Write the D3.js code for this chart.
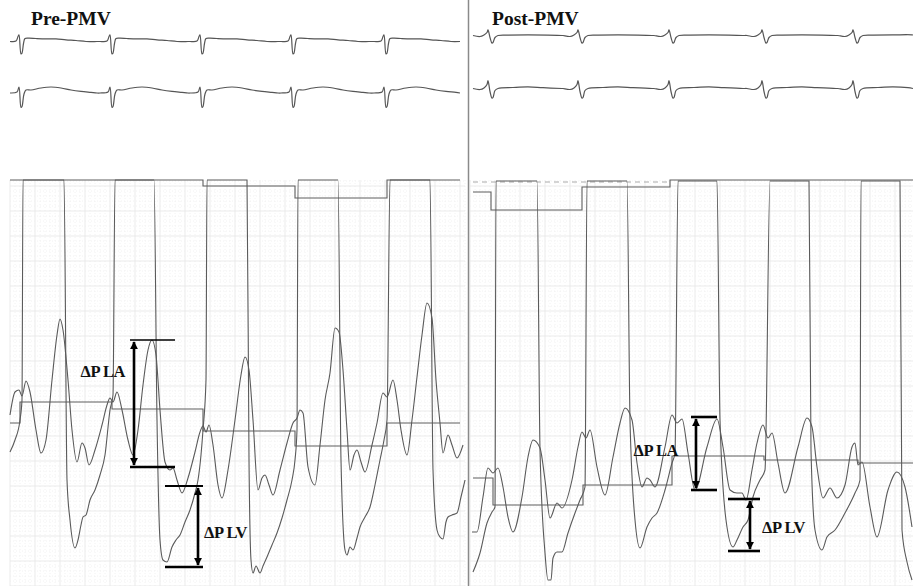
<!DOCTYPE html>
<html>
<head>
<meta charset="utf-8">
<script src="https://cdn.jsdelivr.net/npm/d3@7"></script>
<style>
  body { margin: 0; background: #fff; }
  svg { display: block; }
</style>
</head>
<body>
<script>
// ---- data: time in ms, pressure in mmHg, ECG in mV ----
const panelTitles = ["Pre-PMV", "Post-PMV"];

// R/S wave times of each beat
const preBeats = [110, 1020, 1920, 2830, 3760];
const postBeats = [180, 1080, 1990, 2920, 3830];

// one ECG complex per lead, [ms from beat, mV]
const preLead1 = [[-120,0],[-50,0.02],[-30,0.25],[-20,0.33],[0,-0.62],[10,-0.58],[25,-0.1],[40,0.15],[80,0.17],[150,0.15],[250,0.13],[350,0.13],[450,0.08],[550,0.05],[650,0],[760,0]];
const preLead2 = [[-120,0],[-40,0.05],[-20,0.3],[0,-0.72],[10,-0.67],[30,-0.05],[50,0.15],[100,0.15],[200,0.25],[300,0.3],[400,0.25],[500,0.15],[600,0.08],[700,0.03],[760,0]];
const postLead1 = [[-150,0],[-80,-0.05],[-40,0.03],[-10,0.15],[0,0.28],[20,-0.1],[40,-0.38],[50,-0.35],[70,-0.1],[100,0],[200,0.02],[400,0.03],[600,0.02],[740,0]];
const postLead2 = [[-150,0],[-80,-0.05],[-40,0.03],[-10,0.2],[0,0.4],[20,-0.15],[40,-0.48],[50,-0.45],[70,-0.1],[100,0],[250,0.05],[400,0.08],[550,0.04],[740,0]];

// LV pressure (saturates at top of scale)
const preLV = [[0,13.4],[50,14.6],[100,16.6],[120,18.6],[130,40.6],[540,40.6],[570,10.6],[600,6.6],[650,3.8],[680,4.6],[710,6.1],[730,6.9],[760,7.1],[800,8.6],[850,9.6],[900,11.1],[950,13.1],[1000,17.6],[1030,19.1],[1050,40.6],
  [1440,40.6],[1470,16.6],[1500,4.6],[1530,2.6],[1570,2.4],[1620,3.9],[1660,4.6],[1700,5.1],[1750,6.4],[1800,7.6],[1850,9.3],[1880,10.6],[1910,13.1],[1930,15.6],[1960,20.6],[1970,40.6],
  [2370,40.6],[2390,12.6],[2410,2.6],[2430,1.3],[2460,2.0],[2500,1.3],[2530,2.0],[2570,2.9],[2620,4.1],[2670,5.3],[2720,6.8],[2770,8.6],[2820,10.6],[2850,12.6],[2870,15.6],[2880,40.6],
  [3280,40.6],[3310,12.6],[3350,3.6],[3370,3.1],[3400,3.9],[3430,3.6],[3470,4.8],[3500,5.9],[3550,6.9],[3600,7.9],[3650,10.1],[3700,12.6],[3740,14.6],[3770,16.6],[3800,40.6],
  [4200,40.6],[4230,11.6],[4270,5.6],[4300,4.9],[4330,4.7],[4360,6.4],[4380,6.9],[4420,7.1],[4470,7.3],[4510,8.9],[4550,10.6]];

// LA pressure
const preLA = [[0,17.1],[50,19.4],[90,19.6],[120,19.0],[160,20.5],[200,19.4],[260,15.6],[310,13.3],[360,14.6],[420,20.6],[470,25.1],[500,26.7],[530,25.6],[580,20.6],[620,15.6],[670,12.4],[720,14.3],[750,13.8],[790,12.1],[850,13.6],[920,16.1],[970,18.1],[1000,18.8],[1030,18.4],[1070,19.4],
  [1120,17.6],[1180,14.6],[1230,13.1],[1280,15.6],[1330,20.1],[1380,23.6],[1420,24.6],[1460,23.1],[1500,17.6],[1550,12.4],[1600,11.6],[1630,11.8],[1670,10.6],[1720,9.3],[1780,10.8],[1850,13.4],[1900,15.4],[1930,16.0],[1960,15.4],[1990,16.1],
  [2030,14.1],[2080,10.1],[2120,8.8],[2180,11.6],[2250,16.6],[2310,21.1],[2350,22.9],[2390,21.6],[2430,16.6],[2480,9.6],[2520,10.8],[2550,11.1],[2590,10.1],[2630,9.1],[2700,11.6],[2770,14.3],[2830,16.3],[2870,16.8],[2900,17.6],[2930,17.3],
  [2980,11.9],[3050,10.1],[3100,14.1],[3150,18.6],[3200,21.3],[3250,25.8],[3290,25.4],[3330,21.6],[3370,15.6],[3400,11.6],[3440,13.1],[3470,13.6],[3510,12.4],[3550,11.4],[3620,14.1],[3670,16.3],[3730,19.3],[3770,18.9],[3830,20.6],[3870,18.6],
  [3910,15.6],[3970,13.1],[4020,16.6],[4070,20.9],[4120,25.1],[4170,28.3],[4220,26.8],[4260,20.6],[4300,16.3],[4330,13.3],[4380,15.1],[4420,14.1],[4470,12.8],[4530,14.1]];

// beat-by-beat mean lines (step)
const preMean = [[0,16.3],[100,18.4],[1020,17.7],[1930,15.5],[2850,14.0],[3770,16.3],[4500,16.3]];
const preTop = [[0,40.6],[1930,40.0],[2850,38.8],[3770,40.6],[4500,40.6]];

const postLV = [[30,1.4],[100,3.3],[170,6.3],[220,7.4],[250,7.9],[260,40.5],[670,40.5],[700,13.6],[750,3.3],[780,0.6],[810,0.6],[830,2.8],[870,3.4],[920,3.4],[980,5.3],[1050,7.3],[1100,8.6],[1150,9.9],[1170,40.5],
  [1570,40.5],[1600,16.6],[1650,6.6],[1700,3.8],[1770,5.9],[1820,6.8],[1870,7.3],[1950,9.6],[2020,12.3],[2050,13.3],[2080,40.5],
  [2470,40.5],[2500,16.6],[2560,6.6],[2630,3.9],[2670,4.6],[2730,5.9],[2780,6.6],[2830,8.9],[2900,10.6],[2950,11.6],[3000,40.5],
  [3390,40.5],[3410,13.6],[3450,5.6],[3520,3.6],[3570,4.9],[3650,5.6],[3750,7.3],[3850,9.3],[3900,10.6],[3910,40.5],
  [4300,40.5],[4320,5.6],[4370,2.4],[4420,0.6]];

const postLA = [[20,5.4],[70,5.4],[130,8.9],[180,11.8],[230,11.3],[280,11.8],[330,9.9],[380,6.9],[430,5.4],[520,8.9],[580,12.9],[630,14.6],[700,13.8],[750,10.6],[800,6.8],[870,8.3],[920,7.8],[1020,10.6],[1080,13.9],[1120,15.4],[1160,14.8],[1200,15.6],
  [1270,11.9],[1350,9.1],[1430,12.9],[1500,16.3],[1550,17.8],[1620,16.6],[1670,12.3],[1720,9.9],[1770,10.8],[1800,10.6],[1850,9.9],[1950,13.9],[2020,17.1],[2070,16.3],[2120,16.7],
  [2180,13.3],[2250,9.6],[2370,13.9],[2470,16.7],[2530,13.9],[2600,9.6],[2670,9.3],[2720,9.3],[2760,8.6],[2820,11.6],[2870,14.3],[2930,16.1],[2980,14.8],[3020,15.3],
  [3080,12.3],[3150,9.3],[3280,13.9],[3370,16.8],[3420,15.9],[3470,11.9],[3530,8.8],[3600,9.8],[3670,8.8],[3750,10.1],[3820,13.9],[3850,14.3],[3880,12.1],[3920,12.4],
  [4000,7.9],[4070,4.9],[4180,9.6],[4270,11.4],[4350,9.9],[4420,5.9]];

const postMean = [[30,10.8],[230,8.1],[1130,10.1],[2020,13.0],[2940,12.6],[3880,12.3],[4430,12.3]];
const postTop = [[30,39.4],[210,37.6],[1120,39.9],[2000,40.6],[4430,40.6]];
const postRef = [[30,40.4],[2000,40.4]];

// gradient measurements [high, low] mmHg
const preDeltaLA = [24.6, 11.9];
const preDeltaLV = [10.0, 1.9];
const postDeltaLA = [16.9, 9.6];
const postDeltaLV = [8.7, 3.5];

// ---- drawing ----
const W = 913, H = 586;
const svg = d3.select("body").append("svg").attr("width", W).attr("height", H);

const defs = svg.append("defs");
defs.append("marker")
  .attr("id", "head")
  .attr("viewBox", "0 0 10 10")
  .attr("refX", 9).attr("refY", 5)
  .attr("markerWidth", 3.2).attr("markerHeight", 3.6)
  .attr("orient", "auto-start-reverse")
  .append("path").attr("d", "M0,0L10,5L0,10z").attr("fill", "#000");

const yP = d3.scaleLinear().domain([0, 40]).range([586, 186]);

const trace = "#5a5a5a";
const serif = "'Liberation Serif', 'Times New Roman', serif";

function drawPanel(cfg) {
  const x = d3.scaleLinear().domain(cfg.tDomain).range(cfg.xRange);
  const g = svg.append("g");

  // chart paper grid
  const grid = g.append("g");
  const tMinor = d3.range(cfg.tDomain[0], cfg.tDomain[1] + 1, 50);
  const pMinor = d3.range(0, 40.7, 0.5);
  grid.selectAll("line.vx").data(tMinor).join("line")
    .attr("x1", d => x(d)).attr("x2", d => x(d))
    .attr("y1", yP(40.6)).attr("y2", H)
    .attr("stroke", (d, i) => i % 5 === 0 ? "#e6e6e6" : "#efefef")
    .attr("stroke-dasharray", (d, i) => i % 5 === 0 ? null : "1,2")
    .attr("stroke-width", 0.8);
  grid.selectAll("line.hy").data(pMinor).join("line")
    .attr("x1", x(cfg.tDomain[0])).attr("x2", x(cfg.tDomain[1]))
    .attr("y1", d => yP(d)).attr("y2", d => yP(d))
    .attr("stroke", (d, i) => i % 5 === 0 ? "#e6e6e6" : "#efefef")
    .attr("stroke-dasharray", (d, i) => i % 5 === 0 ? null : "1,2")
    .attr("stroke-width", 0.8);

  // title
  g.append("text")
    .attr("x", cfg.titleX).attr("y", 25)
    .attr("font-family", serif)
    .attr("font-weight", "bold").attr("font-size", 19.5)
    .attr("fill", "#111")
    .text(cfg.title);

  // ECG leads
  cfg.leads.forEach(lead => {
    const yE = d3.scaleLinear().domain([-1, 1]).range([lead.base + 20, lead.base - 20]);
    let pts = [[cfg.ecgSpan[0], 0]];
    cfg.beats.forEach(b => lead.shape.forEach(([dt, v]) => pts.push([b + dt, v])));
    pts.push([cfg.ecgSpan[1], 0]);
    pts = pts.filter(p => p[0] >= cfg.ecgSpan[0] && p[0] <= cfg.ecgSpan[1]).sort((a, b) => a[0] - b[0]);
    g.append("path")
      .attr("d", d3.line().x(d => x(d[0])).y(d => yE(d[1])).curve(d3.curveCatmullRom.alpha(0.5))(pts))
      .attr("fill", "none").attr("stroke", "#555").attr("stroke-width", 1.2);
  });

  const smooth = d3.line().x(d => x(d[0])).y(d => yP(d[1])).curve(d3.curveMonotoneX);
  const step = d3.line().x(d => x(d[0])).y(d => yP(d[1])).curve(d3.curveStepAfter);

  if (cfg.ref) {
    g.append("path").attr("d", step(cfg.ref))
      .attr("fill", "none").attr("stroke", "#aaa").attr("stroke-width", 1)
      .attr("stroke-dasharray", "5,4");
  }
  [cfg.top, cfg.mean].forEach(s => {
    g.append("path").attr("d", step(s))
      .attr("fill", "none").attr("stroke", "#5e5e5e").attr("stroke-width", 1.1);
  });
  g.append("path").attr("d", smooth(cfg.la))
    .attr("fill", "none").attr("stroke", trace).attr("stroke-width", 1.1);
  g.append("path").attr("d", smooth(cfg.lv))
    .attr("fill", "none").attr("stroke", trace).attr("stroke-width", 1.1);

  // gradient annotations
  cfg.deltas.forEach(dl => {
    const a = g.append("g");
    a.append("line")
      .attr("x1", x(dl.t0)).attr("x2", x(dl.t1))
      .attr("y1", yP(dl.p[0])).attr("y2", yP(dl.p[0]))
      .attr("stroke", "#000").attr("stroke-width", dl.topW);
    a.append("line")
      .attr("x1", x(dl.t0)).attr("x2", x(dl.t1))
      .attr("y1", yP(dl.p[1])).attr("y2", yP(dl.p[1]))
      .attr("stroke", "#000").attr("stroke-width", 2.6);
    a.append("line")
      .attr("x1", x(dl.ta)).attr("x2", x(dl.ta))
      .attr("y1", yP(dl.p[0]) + 2).attr("y2", yP(dl.p[1]) - 2)
      .attr("stroke", "#000").attr("stroke-width", 2.6)
      .attr("marker-start", "url(#head)").attr("marker-end", "url(#head)");
    a.append("text")
      .attr("x", dl.lx).attr("y", dl.ly)
      .attr("text-anchor", dl.anchor)
      .attr("font-family", serif)
      .attr("font-weight", "bold").attr("font-size", 16.5)
      .attr("letter-spacing", -0.4)
      .attr("fill", "#111")
      .text(dl.label);
  });
}

drawPanel({
  title: panelTitles[0], titleX: 31,
  tDomain: [0, 4550], xRange: [10, 465], ecgSpan: [0, 4500],
  beats: preBeats,
  leads: [{ base: 41.5, shape: preLead1 }, { base: 93, shape: preLead2 }],
  lv: preLV, la: preLA, mean: preMean, top: preTop,
  deltas: [
    { p: preDeltaLA, t0: 1200, t1: 1650, ta: 1240, topW: 1.6, label: "ΔP LA", lx: 125, ly: 377, anchor: "end" },
    { p: preDeltaLV, t0: 1550, t1: 1930, ta: 1880, topW: 2.2, label: "ΔP LV", lx: 204, ly: 538, anchor: "start" }
  ]
});

drawPanel({
  title: panelTitles[1], titleX: 492,
  tDomain: [0, 4430], xRange: [470, 913], ecgSpan: [30, 4430],
  beats: postBeats,
  leads: [{ base: 35.5, shape: postLead1 }, { base: 88.5, shape: postLead2 }],
  lv: postLV, la: postLA, mean: postMean, top: postTop, ref: postRef,
  deltas: [
    { p: postDeltaLA, t0: 2210, t1: 2470, ta: 2260, topW: 2.6, label: "ΔP LA", lx: 678, ly: 456, anchor: "end" },
    { p: postDeltaLV, t0: 2580, t1: 2900, ta: 2800, topW: 2.6, label: "ΔP LV", lx: 762, ly: 533, anchor: "start" }
  ]
});

// divider between the two recordings
svg.append("line")
  .attr("x1", 468.5).attr("x2", 468.5).attr("y1", 0).attr("y2", H)
  .attr("stroke", "#8a8a8a").attr("stroke-width", 1.5);
</script>
</body>
</html>
